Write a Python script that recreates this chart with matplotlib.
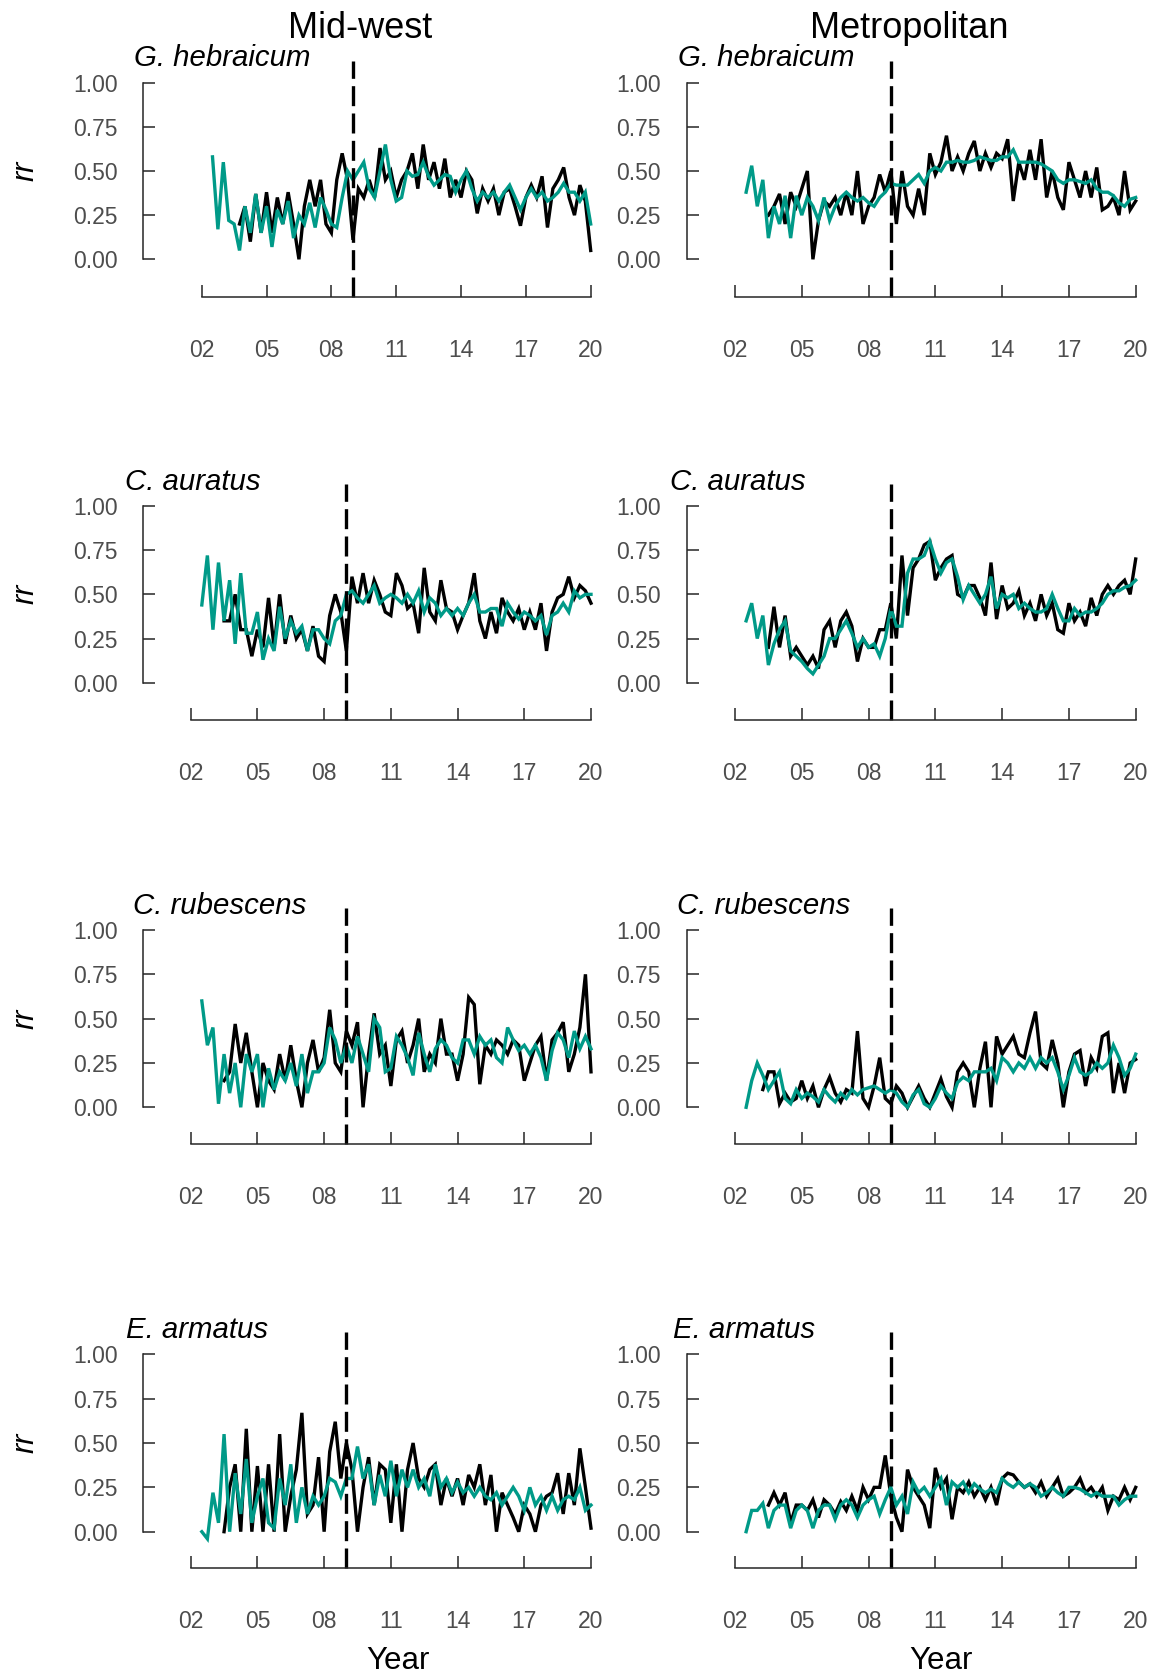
# Recreate the rr time series figure (Mid-west vs Metropolitan, four species)
import numpy as np
import matplotlib
matplotlib.use("Agg")
import matplotlib.pyplot as plt

plt.rcParams["font.family"] = ["Liberation Sans", "DejaVu Sans"]

W, H = 1156, 1677
TEAL = "#009A88"

# ---- data (quarterly steps) ----
regions = ["Mid-west", "Metropolitan"]
species = ["G. hebraicum", "C. auratus", "C. rubescens", "E. armatus"]
year_ticks = [2002, 2005, 2008, 2011, 2014, 2017, 2020]
year_labels = ["02", "05", "08", "11", "14", "17", "20"]
rr_ticks = [0.0, 0.25, 0.5, 0.75, 1.0]
rr_labels = ["0.00", "0.25", "0.50", "0.75", "1.00"]
change_year = 2009
step = 0.25

# Mid-west G. hebraicum
mw_gh_teal_start = 2002.5
mw_gh_teal = [0.58, 0.17, 0.55, 0.22, 0.2, 0.05, 0.3, 0.15, 0.37, 0.15, 0.3, 0.07, 0.28, 0.2, 0.33, 0.12,
              0.25, 0.2, 0.32, 0.18, 0.35, 0.28, 0.2, 0.18, 0.35, 0.5, 0.45, 0.5, 0.55, 0.4, 0.35, 0.5,
              0.65, 0.45, 0.33, 0.35, 0.5, 0.47, 0.48, 0.55, 0.47, 0.42, 0.45, 0.48, 0.47, 0.38, 0.45, 0.5,
              0.4, 0.33, 0.38, 0.35, 0.38, 0.33, 0.38, 0.42, 0.35, 0.28, 0.35, 0.4, 0.35, 0.38, 0.33, 0.35,
              0.38, 0.43, 0.38, 0.38, 0.33, 0.38, 0.2]
mw_gh_black_start = 2003.75
mw_gh_black = [0.2, 0.3, 0.1, 0.37, 0.15, 0.38, 0.15, 0.35, 0.2, 0.38, 0.2, 0.0, 0.3, 0.45, 0.3, 0.45,
               0.2, 0.15, 0.45, 0.6, 0.45, 0.11, 0.4, 0.35, 0.45, 0.35, 0.63, 0.45, 0.5, 0.35, 0.45, 0.5,
               0.6, 0.4, 0.65, 0.45, 0.55, 0.4, 0.57, 0.35, 0.45, 0.35, 0.5, 0.45, 0.26, 0.4, 0.33, 0.4,
               0.25, 0.38, 0.4, 0.3, 0.19, 0.35, 0.42, 0.35, 0.47, 0.18, 0.4, 0.45, 0.52, 0.35, 0.25, 0.42,
               0.33, 0.05]

# Metropolitan G. hebraicum
me_gh_teal_start = 2002.5
me_gh_teal = [0.38, 0.53, 0.3, 0.45, 0.12, 0.3, 0.2, 0.36, 0.12, 0.36, 0.25, 0.35, 0.3, 0.22, 0.35, 0.22,
              0.3, 0.35, 0.38, 0.35, 0.33, 0.35, 0.32, 0.3, 0.35, 0.38, 0.43, 0.42, 0.42, 0.42, 0.45, 0.48,
              0.43, 0.5, 0.52, 0.5, 0.55, 0.55, 0.56, 0.55, 0.55, 0.56, 0.58, 0.57, 0.56, 0.56, 0.58, 0.58,
              0.62, 0.55, 0.55, 0.55, 0.55, 0.54, 0.52, 0.5, 0.45, 0.43, 0.45, 0.45, 0.44, 0.43, 0.45, 0.4,
              0.38, 0.38, 0.36, 0.32, 0.3, 0.34, 0.35]
me_gh_black_start = 2003.5
me_gh_black = [0.25, 0.3, 0.37, 0.2, 0.38, 0.3, 0.4, 0.5, 0.0, 0.22, 0.33, 0.3, 0.35, 0.25, 0.38, 0.25,
               0.5, 0.2, 0.3, 0.35, 0.48, 0.38, 0.5, 0.2, 0.5, 0.3, 0.25, 0.4, 0.25, 0.6, 0.48, 0.55,
               0.7, 0.5, 0.58, 0.5, 0.6, 0.67, 0.5, 0.6, 0.52, 0.6, 0.57, 0.68, 0.33, 0.55, 0.45, 0.62,
               0.45, 0.68, 0.35, 0.5, 0.35, 0.28, 0.55, 0.45, 0.35, 0.5, 0.35, 0.52, 0.28, 0.3, 0.35, 0.25,
               0.5, 0.28, 0.33]

# Mid-west C. auratus
mw_ca_teal_start = 2002.5
mw_ca_teal = [0.44, 0.72, 0.3, 0.68, 0.35, 0.58, 0.22, 0.62, 0.28, 0.28, 0.4, 0.13, 0.25, 0.18, 0.43, 0.25,
              0.35, 0.28, 0.32, 0.18, 0.3, 0.3, 0.25, 0.22, 0.35, 0.38, 0.5, 0.52, 0.48, 0.45, 0.5, 0.55,
              0.45, 0.48, 0.5, 0.48, 0.45, 0.5, 0.45, 0.52, 0.4, 0.48, 0.45, 0.38, 0.42, 0.38, 0.42, 0.38,
              0.45, 0.5, 0.4, 0.4, 0.42, 0.42, 0.32, 0.45, 0.4, 0.36, 0.4, 0.38, 0.35, 0.38, 0.27, 0.38,
              0.4, 0.45, 0.4, 0.52, 0.48, 0.5, 0.5]
mw_ca_black_start = 2003.5
mw_ca_black = [0.35, 0.35, 0.5, 0.3, 0.3, 0.15, 0.3, 0.2, 0.48, 0.2, 0.5, 0.22, 0.38, 0.25, 0.3, 0.18,
               0.32, 0.15, 0.12, 0.38, 0.5, 0.4, 0.18, 0.6, 0.45, 0.62, 0.45, 0.58, 0.5, 0.4, 0.38, 0.62,
               0.55, 0.42, 0.45, 0.28, 0.65, 0.4, 0.35, 0.58, 0.42, 0.4, 0.3, 0.38, 0.45, 0.62, 0.35, 0.25,
               0.4, 0.28, 0.48, 0.4, 0.35, 0.42, 0.3, 0.4, 0.3, 0.45, 0.18, 0.4, 0.48, 0.5, 0.6, 0.48,
               0.55, 0.52, 0.45]

# Metropolitan C. auratus
me_ca_teal_start = 2002.5
me_ca_teal = [0.35, 0.45, 0.25, 0.38, 0.1, 0.22, 0.3, 0.35, 0.18, 0.15, 0.12, 0.08, 0.05, 0.1, 0.15, 0.25,
              0.25, 0.3, 0.35, 0.28, 0.2, 0.25, 0.2, 0.22, 0.15, 0.25, 0.42, 0.32, 0.32, 0.62, 0.7, 0.7,
              0.72, 0.8, 0.7, 0.62, 0.68, 0.7, 0.6, 0.47, 0.55, 0.5, 0.45, 0.5, 0.6, 0.42, 0.5, 0.48,
              0.5, 0.42, 0.45, 0.42, 0.4, 0.4, 0.42, 0.5, 0.42, 0.35, 0.35, 0.42, 0.38, 0.4, 0.4, 0.42,
              0.45, 0.5, 0.52, 0.52, 0.54, 0.55, 0.58]
me_ca_black_start = 2003.5
me_ca_black = [0.2, 0.43, 0.2, 0.38, 0.15, 0.2, 0.15, 0.1, 0.15, 0.08, 0.3, 0.35, 0.2, 0.35, 0.4, 0.32,
               0.12, 0.25, 0.2, 0.2, 0.3, 0.3, 0.45, 0.25, 0.72, 0.38, 0.65, 0.7, 0.78, 0.8, 0.58, 0.65,
               0.7, 0.72, 0.5, 0.48, 0.55, 0.55, 0.48, 0.38, 0.68, 0.36, 0.55, 0.42, 0.45, 0.52, 0.38, 0.45,
               0.35, 0.5, 0.38, 0.45, 0.3, 0.28, 0.45, 0.35, 0.4, 0.32, 0.48, 0.38, 0.5, 0.55, 0.5, 0.55,
               0.58, 0.5, 0.7]

# Mid-west C. rubescens
mw_cr_teal_start = 2002.5
mw_cr_teal = [0.6, 0.35, 0.45, 0.02, 0.3, 0.08, 0.25, 0.0, 0.3, 0.2, 0.3, 0.0, 0.22, 0.1, 0.2, 0.15,
              0.25, 0.12, 0.3, 0.08, 0.2, 0.2, 0.25, 0.45, 0.38, 0.25, 0.35, 0.25, 0.4, 0.3, 0.2, 0.5,
              0.45, 0.2, 0.22, 0.4, 0.35, 0.28, 0.18, 0.42, 0.3, 0.2, 0.33, 0.38, 0.35, 0.28, 0.25, 0.38,
              0.38, 0.3, 0.4, 0.35, 0.38, 0.28, 0.25, 0.45, 0.38, 0.32, 0.35, 0.3, 0.35, 0.28, 0.15, 0.32,
              0.42, 0.38, 0.28, 0.43, 0.33, 0.4, 0.33]
mw_cr_black_start = 2003.5
mw_cr_black = [0.15, 0.2, 0.47, 0.25, 0.42, 0.2, 0.0, 0.25, 0.15, 0.1, 0.3, 0.15, 0.35, 0.15, 0.0, 0.25,
               0.38, 0.2, 0.28, 0.55, 0.25, 0.2, 0.43, 0.35, 0.48, 0.0, 0.3, 0.53, 0.3, 0.35, 0.12, 0.38,
               0.43, 0.25, 0.35, 0.5, 0.2, 0.3, 0.25, 0.5, 0.3, 0.3, 0.15, 0.3, 0.62, 0.58, 0.13, 0.35,
               0.3, 0.38, 0.35, 0.3, 0.38, 0.35, 0.15, 0.25, 0.35, 0.4, 0.15, 0.38, 0.42, 0.48, 0.2, 0.3,
               0.45, 0.75, 0.2]

# Metropolitan C. rubescens
me_cr_teal_start = 2002.5
me_cr_teal = [0.0, 0.15, 0.25, 0.18, 0.1, 0.15, 0.2, 0.05, 0.02, 0.1, 0.05, 0.08, 0.06, 0.03, 0.1, 0.06,
              0.03, 0.08, 0.05, 0.1, 0.07, 0.1, 0.11, 0.12, 0.1, 0.08, 0.1, 0.08, 0.03, 0.0, 0.07, 0.1,
              0.02, 0.0, 0.05, 0.12, 0.08, 0.05, 0.14, 0.17, 0.15, 0.2, 0.2, 0.2, 0.22, 0.15, 0.28, 0.25,
              0.2, 0.25, 0.22, 0.28, 0.22, 0.28, 0.25, 0.28, 0.2, 0.1, 0.18, 0.28, 0.2, 0.18, 0.2, 0.25,
              0.22, 0.25, 0.35, 0.28, 0.18, 0.22, 0.3]
me_cr_black_start = 2003.25
me_cr_black = [0.1, 0.2, 0.2, 0.02, 0.08, 0.03, 0.05, 0.15, 0.05, 0.12, 0.0, 0.1, 0.17, 0.08, 0.03, 0.1,
               0.08, 0.43, 0.05, 0.0, 0.12, 0.28, 0.05, 0.02, 0.12, 0.08, 0.0, 0.06, 0.12, 0.05, 0.0, 0.08,
               0.16, 0.06, 0.0, 0.2, 0.25, 0.2, 0.0, 0.22, 0.37, 0.0, 0.4, 0.3, 0.35, 0.4, 0.3, 0.28,
               0.42, 0.54, 0.25, 0.22, 0.38, 0.25, 0.0, 0.2, 0.3, 0.32, 0.12, 0.28, 0.22, 0.4, 0.42, 0.08,
               0.25, 0.08, 0.25, 0.27]

# Mid-west E. armatus
mw_ea_teal_start = 2002.5
mw_ea_teal = [0.0, -0.04, 0.22, 0.05, 0.55, 0.0, 0.33, 0.1, 0.41, 0.05, 0.2, 0.3, 0.05, 0.02, 0.3, 0.15,
              0.38, 0.05, 0.25, 0.1, 0.2, 0.15, 0.2, 0.3, 0.28, 0.2, 0.3, 0.3, 0.48, 0.3, 0.38, 0.15,
              0.32, 0.2, 0.4, 0.2, 0.35, 0.25, 0.35, 0.25, 0.3, 0.2, 0.38, 0.25, 0.3, 0.22, 0.28, 0.22,
              0.25, 0.2, 0.25, 0.2, 0.18, 0.22, 0.15, 0.2, 0.25, 0.2, 0.12, 0.25, 0.15, 0.2, 0.12, 0.2,
              0.12, 0.18, 0.2, 0.18, 0.25, 0.12, 0.15]
mw_ea_black_start = 2003.5
mw_ea_black = [0.0, 0.25, 0.38, 0.0, 0.58, 0.0, 0.37, 0.0, 0.38, 0.0, 0.55, 0.0, 0.2, 0.35, 0.67, 0.1,
               0.15, 0.42, 0.0, 0.45, 0.62, 0.3, 0.5, 0.35, 0.0, 0.25, 0.42, 0.15, 0.38, 0.35, 0.05, 0.38,
               0.0, 0.35, 0.5, 0.3, 0.25, 0.35, 0.38, 0.15, 0.3, 0.2, 0.3, 0.15, 0.32, 0.25, 0.38, 0.15,
               0.32, 0.0, 0.22, 0.15, 0.08, 0.0, 0.15, 0.1, 0.0, 0.15, 0.2, 0.22, 0.33, 0.1, 0.33, 0.15,
               0.47, 0.25, 0.02]

# Metropolitan E. armatus
me_ea_teal_start = 2002.5
me_ea_teal = [0.0, 0.12, 0.12, 0.16, 0.02, 0.12, 0.15, 0.15, 0.02, 0.12, 0.15, 0.12, 0.02, 0.12, 0.15, 0.15,
              0.07, 0.15, 0.18, 0.15, 0.08, 0.15, 0.18, 0.2, 0.1, 0.18, 0.25, 0.15, 0.2, 0.1, 0.28, 0.22,
              0.25, 0.2, 0.25, 0.3, 0.15, 0.28, 0.25, 0.28, 0.22, 0.27, 0.24, 0.22, 0.24, 0.22, 0.3, 0.27,
              0.25, 0.28, 0.25, 0.27, 0.25, 0.2, 0.22, 0.25, 0.22, 0.2, 0.25, 0.25, 0.24, 0.22, 0.2, 0.22,
              0.2, 0.2, 0.2, 0.15, 0.18, 0.2, 0.2]
me_ea_black_start = 2003.5
me_ea_black = [0.15, 0.22, 0.15, 0.22, 0.05, 0.15, 0.15, 0.12, 0.18, 0.08, 0.18, 0.15, 0.1, 0.17, 0.12, 0.2,
               0.12, 0.25, 0.18, 0.25, 0.25, 0.43, 0.2, 0.08, 0.0, 0.35, 0.25, 0.2, 0.15, 0.02, 0.36, 0.25,
               0.3, 0.07, 0.25, 0.22, 0.28, 0.2, 0.25, 0.18, 0.25, 0.15, 0.3, 0.33, 0.32, 0.28, 0.25, 0.27,
               0.22, 0.28, 0.2, 0.25, 0.3, 0.2, 0.22, 0.25, 0.3, 0.22, 0.25, 0.2, 0.25, 0.12, 0.2, 0.18,
               0.25, 0.18, 0.25]

# (black, black start, teal, teal start) for each row and column
panels = [
    [(mw_gh_black, mw_gh_black_start, mw_gh_teal, mw_gh_teal_start),
     (me_gh_black, me_gh_black_start, me_gh_teal, me_gh_teal_start)],
    [(mw_ca_black, mw_ca_black_start, mw_ca_teal, mw_ca_teal_start),
     (me_ca_black, me_ca_black_start, me_ca_teal, me_ca_teal_start)],
    [(mw_cr_black, mw_cr_black_start, mw_cr_teal, mw_cr_teal_start),
     (me_cr_black, me_cr_black_start, me_cr_teal, me_cr_teal_start)],
    [(mw_ea_black, mw_ea_black_start, mw_ea_teal, mw_ea_teal_start),
     (me_ea_black, me_ea_black_start, me_ea_teal, me_ea_teal_start)],
]

# ---- layout in pixels, measured on the reference ----
row_top = [82.7, 506.0, 930.0, 1354.3]     # pixel row of rr = 1
row_zero = [259.3, 682.7, 1107.3, 1531.7]  # pixel row of rr = 0
row_xaxis = [296.7, 719.7, 1144.0, 1568.0]  # pixel row of the year axis line
label_pos = [[(133.7, 58.0), (678.0, 58.0)],
             [(125.0, 482.0), (670.5, 482.0)],
             [(132.6, 906.0), (677.0, 906.0)],
             [(126.0, 1330.0), (672.6, 1330.0)]]

AX_COLOR = "#262626"
TICK_COLOR = "#4d4d4d"
PT = 72 / 100  # points per pixel at dpi 100

fig = plt.figure(figsize=(W / 100, H / 100), dpi=100)

for r in range(4):
    for c in range(2):
        black, b0, teal, t0 = panels[r][c]
        if c == 0:
            spine_px = 143.3
            x02, x20 = (201.7, 590.7) if r == 0 else (190.7, 591.0)
        else:
            spine_px = 686.7
            x02, x20 = 735.0, 1135.7
        top, zero, xax = row_top[r], row_zero[r], row_xaxis[r]
        ppy = (x20 - x02) / 18
        ppu = zero - top
        right_px = x20 + 12
        y_lo, y_hi = -0.12, 1.02
        ax_top = top - (y_hi - 1) * ppu
        ax_bot = zero - y_lo * ppu

        ax = fig.add_axes([spine_px / W, 1 - ax_bot / H,
                           (right_px - spine_px) / W, (ax_bot - ax_top) / H])
        ax.set_xlim(2002 - (x02 - spine_px) / ppy, 2020 + 12 / ppy)
        ax.set_ylim(y_lo, y_hi)

        # series
        xb = b0 + step * np.arange(len(black))
        xt = t0 + step * np.arange(len(teal))
        ax.plot(xb, black, color="black", lw=2.4, solid_joinstyle="miter")
        ax.plot(xt, teal, color=TEAL, lw=2.4, solid_joinstyle="miter")

        # dashed line at the change year
        ax.plot([change_year, change_year], [-(xax - zero) / ppu, 1.125],
                color="black", lw=2.4, dashes=(6, 2.2), clip_on=False)

        # axes styling, R base style
        for s in ["top", "right"]:
            ax.spines[s].set_visible(False)
        ax.spines["left"].set_bounds(0, 1)
        ax.spines["bottom"].set_bounds(2002, 2020)
        ax.spines["bottom"].set_position(("outward", (xax - ax_bot) * PT))
        for s in ["left", "bottom"]:
            ax.spines[s].set_color(AX_COLOR)
            ax.spines[s].set_linewidth(1.1)

        ax.set_xticks(year_ticks)
        ax.set_xticklabels(year_labels)
        ax.set_yticks(rr_ticks)
        ax.set_yticklabels(rr_labels)
        ax.tick_params(direction="in", length=8.5, width=1.1, color=AX_COLOR,
                       labelcolor=TICK_COLOR, labelsize=16.5)
        ax.tick_params(axis="x", pad=30.5)
        ax.tick_params(axis="y", pad=18.5)

        # species name
        lx, ly = label_pos[r][c]
        fig.text(lx / W, 1 - ly / H, species[r], fontsize=21.2, style="italic",
                 ha="left", va="center")

        if c == 0:
            fig.text(25 / W, 1 - (zero - 0.5 * ppu) / H, "rr", fontsize=22,
                     style="italic", rotation=90, ha="center", va="center")

# column headers and x labels
fig.text(360 / W, 1 - 29.0 / H, regions[0], fontsize=26, ha="center", va="center")
fig.text(909 / W, 1 - 29.0 / H, regions[1], fontsize=26, ha="center", va="center")
fig.text(398 / W, 1 - 1661 / H, "Year", fontsize=22.5, ha="center", va="center")
fig.text(941 / W, 1 - 1661 / H, "Year", fontsize=22.5, ha="center", va="center")

fig.savefig("out.png", dpi=100)
